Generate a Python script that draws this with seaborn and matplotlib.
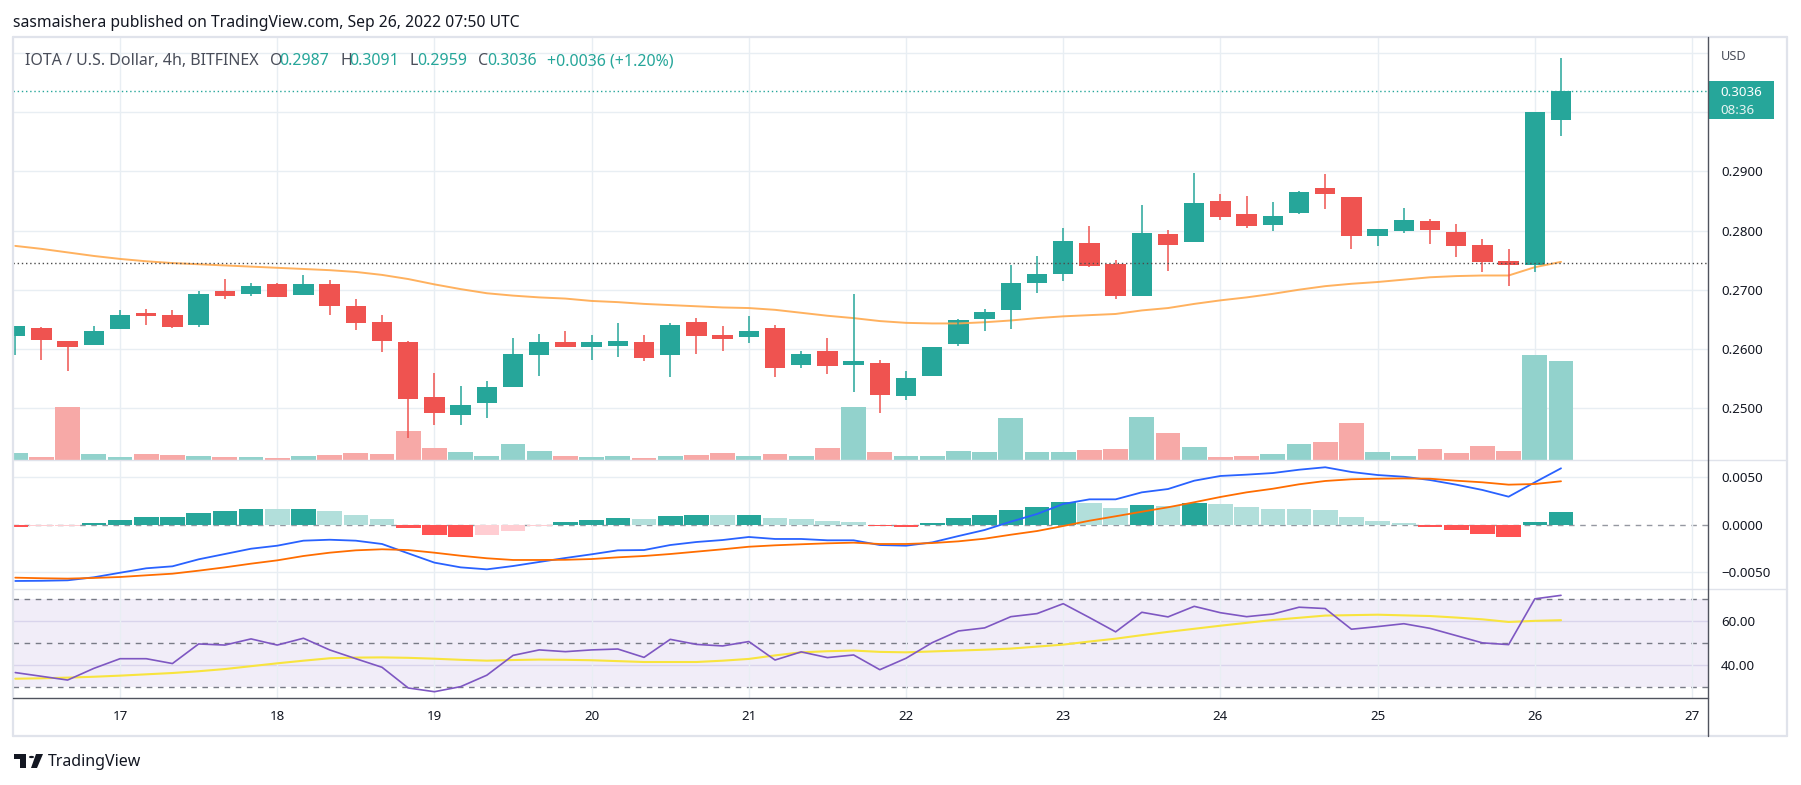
import numpy as np
import matplotlib
matplotlib.use("Agg")
import matplotlib.pyplot as plt
from matplotlib.lines import Line2D
from matplotlib.patches import Rectangle, Polygon, Circle
import seaborn as sns

sns.set_theme(style="white")
plt.rcParams["font.family"] = ["Noto Sans", "DejaVu Sans"]

# ---------------- data (4h candles, 16 Sep 08:00 -> 26 Sep 04:00) ----------------
opens = [0.2622, 0.2636, 0.2614, 0.2606, 0.2633, 0.2660, 0.2658, 0.2640, 0.2697, 0.2693,
         0.2709, 0.2691, 0.2709, 0.2672, 0.2645, 0.2612, 0.2519, 0.2489, 0.2508, 0.2535,
         0.2589, 0.2612, 0.2603, 0.2605, 0.2612, 0.2589, 0.2645, 0.2624, 0.2620, 0.2635,
         0.2572, 0.2596, 0.2572, 0.2577, 0.2520, 0.2554, 0.2608, 0.2650, 0.2665, 0.2711,
         0.2726, 0.2779, 0.2743, 0.2689, 0.2794, 0.2781, 0.2850, 0.2828, 0.2810, 0.2829,
         0.2872, 0.2857, 0.2790, 0.2800, 0.2816, 0.2798, 0.2776, 0.2749, 0.2741, 0.2987]
highs = [0.2638, 0.2637, 0.2614, 0.2638, 0.2665, 0.2667, 0.2665, 0.2697, 0.2718, 0.2712,
         0.2712, 0.2724, 0.2716, 0.2685, 0.2657, 0.2614, 0.2560, 0.2538, 0.2546, 0.2618,
         0.2626, 0.2631, 0.2624, 0.2643, 0.2624, 0.2643, 0.2653, 0.2638, 0.2655, 0.2641,
         0.2596, 0.2618, 0.2692, 0.2582, 0.2563, 0.2604, 0.2650, 0.2667, 0.2741, 0.2757,
         0.2804, 0.2807, 0.2750, 0.2843, 0.2801, 0.2897, 0.2862, 0.2858, 0.2848, 0.2867,
         0.2896, 0.2857, 0.2803, 0.2838, 0.2819, 0.2811, 0.2786, 0.2769, 0.3000, 0.3091]
lows = [0.2589, 0.2582, 0.2562, 0.2606, 0.2633, 0.2640, 0.2636, 0.2637, 0.2684, 0.2689,
        0.2687, 0.2691, 0.2658, 0.2632, 0.2594, 0.2450, 0.2471, 0.2471, 0.2483, 0.2535,
        0.2555, 0.2603, 0.2581, 0.2586, 0.2579, 0.2552, 0.2591, 0.2596, 0.2610, 0.2552,
        0.2567, 0.2557, 0.2527, 0.2491, 0.2513, 0.2554, 0.2605, 0.2631, 0.2633, 0.2694,
        0.2714, 0.2739, 0.2684, 0.2689, 0.2732, 0.2780, 0.2817, 0.2805, 0.2800, 0.2828,
        0.2837, 0.2768, 0.2773, 0.2795, 0.2778, 0.2756, 0.2730, 0.2707, 0.2730, 0.2959]
closes = [0.2638, 0.2615, 0.2603, 0.2631, 0.2657, 0.2655, 0.2637, 0.2692, 0.2689, 0.2706,
          0.2688, 0.2709, 0.2672, 0.2644, 0.2613, 0.2516, 0.2491, 0.2506, 0.2535, 0.2592,
          0.2611, 0.2603, 0.2611, 0.2614, 0.2584, 0.2640, 0.2622, 0.2616, 0.2631, 0.2567,
          0.2592, 0.2571, 0.2580, 0.2522, 0.2551, 0.2604, 0.2648, 0.2663, 0.2711, 0.2726,
          0.2782, 0.2740, 0.2689, 0.2795, 0.2776, 0.2847, 0.2823, 0.2808, 0.2825, 0.2865,
          0.2861, 0.2790, 0.2803, 0.2818, 0.2801, 0.2774, 0.2747, 0.2742, 0.3000, 0.3036]
volumes = [70, 30, 530, 60, 30, 60, 50, 40, 30, 30,
           20, 40, 50, 70, 60, 290, 120, 80, 40, 160,
           90, 40, 30, 40, 20, 40, 50, 70, 40, 60,
           40, 120, 530, 80, 40, 40, 90, 80, 420, 80,
           80, 100, 110, 430, 270, 130, 30, 40, 60, 160,
           180, 370, 80, 40, 110, 70, 140, 90, 1050, 990]
ma_line = [0.2774, 0.2769, 0.2763, 0.2757, 0.2752, 0.2748, 0.2745, 0.2743, 0.2741, 0.2739,
           0.2737, 0.2735, 0.2733, 0.2730, 0.2725, 0.2718, 0.2709, 0.2701, 0.2694, 0.2690,
           0.2687, 0.2685, 0.2681, 0.2679, 0.2676, 0.2674, 0.2672, 0.2670, 0.2669, 0.2666,
           0.2661, 0.2656, 0.2652, 0.2647, 0.2644, 0.2643, 0.2643, 0.2645, 0.2648, 0.2652,
           0.2655, 0.2657, 0.2659, 0.2665, 0.2669, 0.2676, 0.2682, 0.2687, 0.2693, 0.2700,
           0.2706, 0.2710, 0.2713, 0.2717, 0.2721, 0.2723, 0.2724, 0.2724, 0.2738, 0.2747]
macd = [-0.00597, -0.00595, -0.00590, -0.00558, -0.00510, -0.00463, -0.00442, -0.00368, -0.00312, -0.00256,
        -0.00224, -0.00171, -0.00161, -0.00171, -0.00206, -0.00305, -0.00403, -0.00453, -0.00474, -0.00439,
        -0.00396, -0.00354, -0.00315, -0.00273, -0.00270, -0.00217, -0.00185, -0.00164, -0.00132, -0.00153,
        -0.00153, -0.00167, -0.00167, -0.00217, -0.00224, -0.00189, -0.00122, -0.00058, 0.00030, 0.00111,
        0.00217, 0.00266, 0.00266, 0.00340, 0.00375, 0.00463, 0.00513, 0.00527, 0.00544, 0.00579,
        0.00605, 0.00555, 0.00523, 0.00505, 0.00470, 0.00421, 0.00365, 0.00294, 0.00446, 0.00594]
signal = [-0.00562, -0.00568, -0.00572, -0.00565, -0.00555, -0.00537, -0.00520, -0.00488, -0.00453, -0.00414,
          -0.00379, -0.00333, -0.00298, -0.00273, -0.00262, -0.00270, -0.00298, -0.00330, -0.00357, -0.00375,
          -0.00375, -0.00373, -0.00365, -0.00347, -0.00333, -0.00312, -0.00287, -0.00262, -0.00235, -0.00220,
          -0.00209, -0.00199, -0.00192, -0.00206, -0.00206, -0.00196, -0.00178, -0.00150, -0.00108, -0.00069,
          -0.00016, 0.00040, 0.00087, 0.00135, 0.00182, 0.00235, 0.00291, 0.00340, 0.00378, 0.00425,
          0.00460, 0.00478, 0.00484, 0.00487, 0.00484, 0.00463, 0.00446, 0.00421, 0.00428, 0.00457]
hist = [-0.00029, -0.00021, -0.00019, 0.00018, 0.00050, 0.00081, 0.00084, 0.00124, 0.00145, 0.00166,
        0.00162, 0.00167, 0.00145, 0.00103, 0.00060, -0.00032, -0.00106, -0.00127, -0.00116, -0.00067,
        -0.00014, 0.00029, 0.00050, 0.00071, 0.00060, 0.00092, 0.00103, 0.00100, 0.00104, 0.00071,
        0.00060, 0.00039, 0.00029, -0.00021, -0.00022, 0.00018, 0.00071, 0.00103, 0.00155, 0.00187,
        0.00240, 0.00229, 0.00177, 0.00208, 0.00198, 0.00229, 0.00219, 0.00187, 0.00166, 0.00164,
        0.00155, 0.00081, 0.00039, 0.00018, -0.00024, -0.00056, -0.00098, -0.00130, 0.00029, 0.00134]
rsi = [36.7, 35.0, 33.3, 38.6, 43.0, 43.0, 40.8, 49.7, 49.2, 52.0,
       49.2, 52.3, 47.0, 43.0, 39.1, 29.7, 28.0, 30.3, 35.5, 44.5,
       47.0, 46.2, 47.0, 47.4, 43.6, 51.8, 49.5, 48.8, 50.8, 42.4,
       46.1, 43.5, 44.7, 38.0, 43.2, 50.3, 55.6, 57.0, 62.1, 63.5,
       68.0, 61.7, 55.2, 64.1, 62.0, 66.8, 63.9, 62.1, 63.3, 66.4,
       65.8, 56.4, 57.6, 58.9, 56.8, 53.5, 50.2, 49.4, 70.2, 71.8]
rsi_ma = [33.9, 34.1, 34.4, 34.8, 35.3, 35.9, 36.5, 37.3, 38.3, 39.6,
          40.9, 42.1, 43.2, 43.5, 43.6, 43.4, 43.0, 42.5, 42.1, 42.4,
          42.6, 42.5, 42.3, 41.9, 41.5, 41.5, 41.5, 42.1, 42.9, 44.5,
          45.9, 46.4, 46.7, 46.1, 45.9, 46.3, 46.7, 47.1, 47.6, 48.5,
          49.4, 50.8, 52.1, 53.7, 55.2, 56.6, 58.0, 59.3, 60.6, 61.6,
          62.6, 62.8, 63.0, 62.7, 62.4, 61.7, 60.9, 59.7, 60.2, 60.5]
day_labels = ["17", "18", "19", "20", "21", "22", "23", "24", "25", "26", "27"]
price_ticks = [0.25, 0.26, 0.27, 0.28, 0.29, 0.30, 0.31]
price_tick_labels = ["0.2500", "0.2600", "0.2700", "0.2800", "0.2900", "", ""]
macd_ticks = [-0.005, 0.0, 0.005]
macd_tick_labels = ["\u22120.0050", "0.0000", "0.0050"]
rsi_ticks = [40, 60]
rsi_tick_labels = ["40.00", "60.00"]
last_price = 0.3036
prev_close_line = 0.2745

# ---------------- styling ----------------
W, H = 1801, 785
UP, DN = "#26A69A", "#EF5350"
GRID = "#E8EEF3"
TXT = "#131722"
FRAME = "#E0E3EB"
AXLINE = "#50535E"

fig = plt.figure(figsize=(W / 100, H / 100), dpi=100, facecolor="white")


def rect(x0, y0, x1, y1):
    return [x0 / W, 1 - y1 / H, (x1 - x0) / W, (y1 - y0) / H]


def fx(x):
    return x / W


def fy(y):
    return 1 - y / H


L, R = 13.4, 1708
x = np.arange(len(opens))
XL = (-0.07, 64.61)
day_ticks = [4 + 6 * k for k in range(len(day_labels))]
o, h, l, c = map(np.array, (opens, highs, lows, closes))
up = c >= o
ccol = np.where(up, UP, DN)


def style_right(ax, ticks, labels):
    ax.set_yticks(ticks)
    ax.set_yticklabels(labels)
    ax.yaxis.tick_right()
    ax.tick_params(axis="y", length=0, pad=9.5, labelsize=9.6, labelcolor=TXT)
    ax.tick_params(axis="x", length=0, labelbottom=False)
    for s in ax.spines.values():
        s.set_visible(False)


# ---- price pane: grid axis ----
ax_p = fig.add_axes(rect(L, 37, R, 460))
ax_p.set_xlim(XL)
ax_p.set_ylim(0.24123, 0.31269)
ax_p.set_xticks(day_ticks)
style_right(ax_p, price_ticks, price_tick_labels)
ax_p.grid(True, color=GRID, lw=1)
ax_p.set_facecolor("white")

# volume overlay
ax_v = fig.add_axes(rect(L, 37, R, 460), sharex=ax_p)
ax_v.set_facecolor("none")
ax_v.set_ylim(0, 4230)
ax_v.axis("off")
vcol = np.where(up, "#92D2CC", "#F7A9A7")
ax_v.bar(x, volumes, width=0.95, color=vcol, linewidth=0)

# candles
ax_c = fig.add_axes(rect(L, 37, R, 460), sharex=ax_p, sharey=ax_p)
ax_c.set_facecolor("none")
ax_c.axis("off")
sns.lineplot(x=x, y=ma_line, ax=ax_c, color="#FFA94D", linewidth=1.4, alpha=0.9)
ax_c.vlines(x, l, h, colors=ccol, linewidth=1.1)
body_bottom = np.minimum(o, c)
body_h = np.maximum(np.abs(c - o), 0.00012)
ax_c.bar(x, body_h, bottom=body_bottom, width=0.78, color=ccol, linewidth=0)
ax_c.axhline(last_price, color=UP, linestyle=(0, (1, 2)), linewidth=1)
ax_c.axhline(prev_close_line, color="#4A4A4A", linestyle=(0, (1, 2)), linewidth=1)
ax_c.set_xlim(XL)

# ---- MACD pane ----
ax_m = fig.add_axes(rect(L, 460, R, 589), sharex=ax_p)
ax_m.set_ylim(-0.006818, 0.006818)
ax_m.set_xticks(day_ticks)
style_right(ax_m, macd_ticks, macd_tick_labels)
ax_m.grid(True, axis="x", color=GRID, lw=1)
for t in (-0.005, 0.005):
    ax_m.axhline(t, color=GRID, lw=1, zorder=0)
ax_m.axhline(0, color="#9598A1", lw=1, linestyle=(0, (4, 4)), zorder=0.5)
hcols = []
for i, v in enumerate(hist):
    prev = hist[i - 1] if i > 0 else v
    if v >= 0:
        hcols.append("#26A69A" if v > prev else "#B2DFDB")
    else:
        hcols.append("#FFCDD2" if v > prev else "#FF5252")
ax_m.bar(x, hist, width=0.94, color=hcols, linewidth=0, zorder=1)
sns.lineplot(x=x, y=macd, ax=ax_m, color="#2962FF", linewidth=1.3, zorder=2)
sns.lineplot(x=x, y=signal, ax=ax_m, color="#FF6D00", linewidth=1.3, zorder=2)
ax_m.set_xlim(XL)
ax_m.set_ylim(-0.006818, 0.006818)

# ---- RSI pane ----
ax_r = fig.add_axes(rect(L, 589, R, 698), sharex=ax_p)
ax_r.set_ylim(25.14, 74.68)
ax_r.set_xticks(day_ticks)
style_right(ax_r, rsi_ticks, rsi_tick_labels)
ax_r.set_xticklabels(day_labels)
ax_r.tick_params(axis="x", length=0, labelbottom=True, pad=9, labelsize=9.6, labelcolor=TXT)
ax_r.grid(True, axis="x", color=GRID, lw=1)
ax_r.axhspan(30, 70, color="#7E57C2", alpha=0.1, linewidth=0, zorder=0)
for t in (40, 60):
    ax_r.axhline(t, color="#D9D4EC", lw=1, zorder=0.5)
for t in (30, 50, 70):
    ax_r.axhline(t, color="#787B86", lw=1, linestyle=(0, (4, 4)), zorder=0.5)
sns.lineplot(x=x, y=rsi_ma, ax=ax_r, color="#F8E43E", linewidth=1.5, zorder=2)
sns.lineplot(x=x, y=rsi, ax=ax_r, color="#7E57C2", linewidth=1.2, zorder=3)
ax_r.set_xlim(XL)
ax_r.set_ylim(25.14, 74.68)

for ax in (ax_p, ax_v, ax_c, ax_m, ax_r):
    ax.set_xlabel("")
    ax.set_ylabel("")


# ---- frame & separators ----
def fline(x0, y0, x1, y1, color, lw):
    fig.add_artist(Line2D([fx(x0), fx(x1)], [fy(y0), fy(y1)], color=color, linewidth=lw))


fline(L, 37, 1787, 37, FRAME, 1.6)
fline(L, 736, 1787, 736, FRAME, 1.6)
fline(L, 37, L, 736, FRAME, 1.6)
fline(1787, 37, 1787, 736, FRAME, 1.6)
fline(L, 460, 1787, 460, FRAME, 1.0)
fline(L, 589, 1787, 589, FRAME, 1.0)
fline(L, 698, R, 698, AXLINE, 1.0)
fline(R, 37, R, 736, AXLINE, 1.0)

# price badge
fig.add_artist(Rectangle((fx(1708), fy(119)), (1774 - 1708) / W, (119 - 81) / H,
                         transform=fig.transFigure, color=UP, linewidth=0))
fig.text(fx(1720), fy(92), "0.3036", color="white", fontsize=9.6, va="center", ha="left")
fig.text(fx(1720), fy(110), "08:36", color="#E6F4F2", fontsize=9.6, va="center", ha="left")
fig.text(fx(1721), fy(57), "USD", color="#4A4E5A", fontsize=9.2, va="center", ha="left")

# header & legend
fig.text(fx(13.4), fy(22.7), "sasmaishera published on TradingView.com, Sep 26, 2022 07:50 UTC",
         color=TXT, fontsize=11.3, va="center", ha="left")
legend_parts = [
    (24.5, "IOTA / U.S. Dollar, 4h, BITFINEX", "#4A4E5A"),
    (270, "O", "#4A4E5A"), (279, "0.2987", UP),
    (340, "H", "#4A4E5A"), (349, "0.3091", UP),
    (409, "L", "#4A4E5A"), (417, "0.2959", UP),
    (478, "C", "#4A4E5A"), (487, "0.3036", UP),
    (547, "+0.0036 (+1.20%)", UP),
]
for px, s, col in legend_parts:
    fig.text(fx(px), fy(61), s, color=col, fontsize=11.5, va="center", ha="left")

# TradingView logo (bottom-left)
fig.add_artist(Rectangle((fx(14), fy(759)), 12 / W, 5 / H, transform=fig.transFigure, color=TXT, lw=0))
fig.add_artist(Rectangle((fx(20), fy(768)), 6 / W, 14 / H, transform=fig.transFigure, color=TXT, lw=0))
fig.add_artist(Circle((fx(31.5), fy(757)), 2.6 / W, transform=fig.transFigure, color=TXT, lw=0))
fig.add_artist(Polygon([(fx(36), fy(754)), (fx(43), fy(754)), (fx(37), fy(768)), (fx(31), fy(768))],
                       closed=True, transform=fig.transFigure, color=TXT, lw=0))
fig.text(fx(48), fy(762), "TradingView", color=TXT, fontsize=11.5, va="center", ha="left")

fig.savefig("out.png", dpi=100, facecolor="white")
